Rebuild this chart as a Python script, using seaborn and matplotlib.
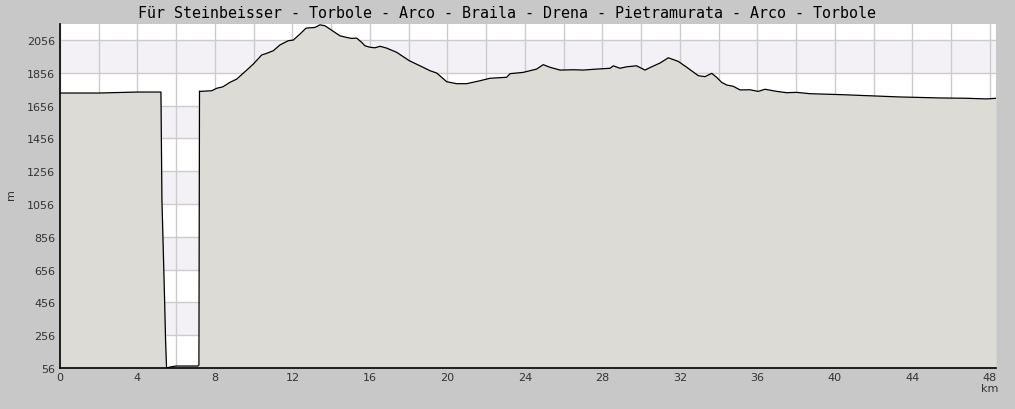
import numpy as np
import pandas as pd
import seaborn as sns
import matplotlib.pyplot as plt
from matplotlib.ticker import MultipleLocator, FuncFormatter

# elevation profile
km = [0.0, 2.01, 3.97, 5.16, 5.21, 5.26, 5.38, 5.45, 5.50, 5.52, 5.68, 5.99, 7.12, 7.17,
      7.20, 7.23, 7.83, 8.09, 8.41, 8.77, 9.12, 9.64, 9.98, 10.41, 10.67, 11.01, 11.35,
      11.78, 12.04, 12.39, 12.70, 13.16, 13.42, 13.68, 14.11, 14.45, 14.80, 15.06, 15.31,
      15.57, 15.74, 16.00, 16.26, 16.52, 16.86, 17.38, 18.03, 18.58, 19.10, 19.44, 19.61,
      19.96, 20.47, 20.99, 21.68, 22.19, 23.05, 23.23, 23.91, 24.60, 24.94, 25.29, 25.81,
      26.49, 27.01, 27.70, 28.39, 28.56, 28.90, 29.25, 29.76, 30.19, 30.54, 30.97, 31.40,
      31.91, 32.35, 32.94, 33.29, 33.64, 33.89, 34.15, 34.41, 34.75, 35.10, 35.61, 36.04,
      36.39, 36.99, 37.51, 38.02, 38.71, 39.23, 40.35, 41.64, 43.35, 45.42, 46.80, 47.83,
      48.31]
elev = [1733, 1733, 1739, 1739, 1739, 1087, 556, 221, 56, 56, 62, 68, 68, 74,
        1745, 1743, 1747, 1762, 1771, 1798, 1818, 1873, 1910, 1965, 1975, 1991, 2026,
        2052, 2056, 2093, 2129, 2133, 2149, 2143, 2109, 2082, 2072, 2066, 2068,
        2042, 2021, 2012, 2009, 2018, 2007, 1981, 1930, 1899, 1869, 1855, 1838,
        1802, 1790, 1790, 1808, 1823, 1829, 1851, 1859, 1879, 1906, 1890, 1873,
        1875, 1873, 1879, 1884, 1899, 1884, 1893, 1899, 1873, 1893, 1916, 1948,
        1926, 1890, 1839, 1833, 1853, 1829, 1798, 1782, 1774, 1752, 1753, 1743,
        1756, 1743, 1735, 1737, 1729, 1727, 1723, 1717, 1709, 1703, 1701, 1697,
        1701]

title = "Für Steinbeisser - Torbole - Arco - Braila - Drena - Pietramurata - Arco - Torbole"
y_min, y_max = 56, 2154
x_max = 48.31

df = pd.DataFrame({"km": km, "elev": elev})

sns.set_style("white")
plt.rcParams['font.family'] = ['DejaVu Sans']

fig = plt.figure(figsize=(10.15, 4.10), dpi=100, facecolor="#c8c8c8")
ax = fig.add_axes([60 / 1015, 41 / 410, 936 / 1015, 344 / 410])
ax.set_facecolor("white")

# alternating bands
for lo in range(256, 2056, 400):
    ax.axhspan(lo, lo + 200, color="#f3f1f5", zorder=0, lw=0)

ax.fill_between(df["km"], df["elev"], y_min, color="#dcdbd6", zorder=2, lw=0)
sns.lineplot(data=df, x="km", y="elev", sort=False, color="black", lw=0.9, ax=ax, zorder=3)

ax.set_xlim(0, x_max)
ax.set_ylim(y_min, y_max)

ax.xaxis.set_major_locator(MultipleLocator(2))
ax.xaxis.set_minor_locator(MultipleLocator(1))
ax.xaxis.set_major_formatter(FuncFormatter(lambda v, p: f"{v:.0f}" if round(v) % 4 == 0 else ""))
ax.set_yticks(np.arange(56, 2100, 200))
ax.yaxis.set_minor_locator(MultipleLocator(100))
ax.yaxis.set_minor_formatter(FuncFormatter(lambda v, p: ""))

ax.grid(True, which="major", color="#cccccc", lw=1, zorder=1)
ax.set_axisbelow(True)
ax.tick_params(axis="both", which="major", direction="in", length=5, width=1,
               labelsize=8, labelcolor="#333333", color="#333333")
ax.tick_params(axis="both", which="minor", direction="in", length=3, width=1, color="#333333")
ax.tick_params(axis="x", which="major", pad=3)

for s in ["top", "right"]:
    ax.spines[s].set_visible(False)
for s in ["left", "bottom"]:
    ax.spines[s].set_color("black")
    ax.spines[s].set_linewidth(1.2)
    ax.spines[s].set_zorder(5)

ax.set_xlabel("")
ax.set_ylabel("")
fig.text(11 / 1015, 1 - 195 / 410, "m", ha="center", va="center", rotation=90,
         fontsize=8, color="#333333")
fig.text(990 / 1015, 1 - 389 / 410, "km", ha="center", va="center", fontsize=8, color="#333333")

fig.text(0.5, 1 - 14 / 410, title, ha="center", va="center",
         fontsize=10.8, family="DejaVu Sans Mono", color="black")

fig.savefig("out.png", dpi=100, facecolor=fig.get_facecolor())
